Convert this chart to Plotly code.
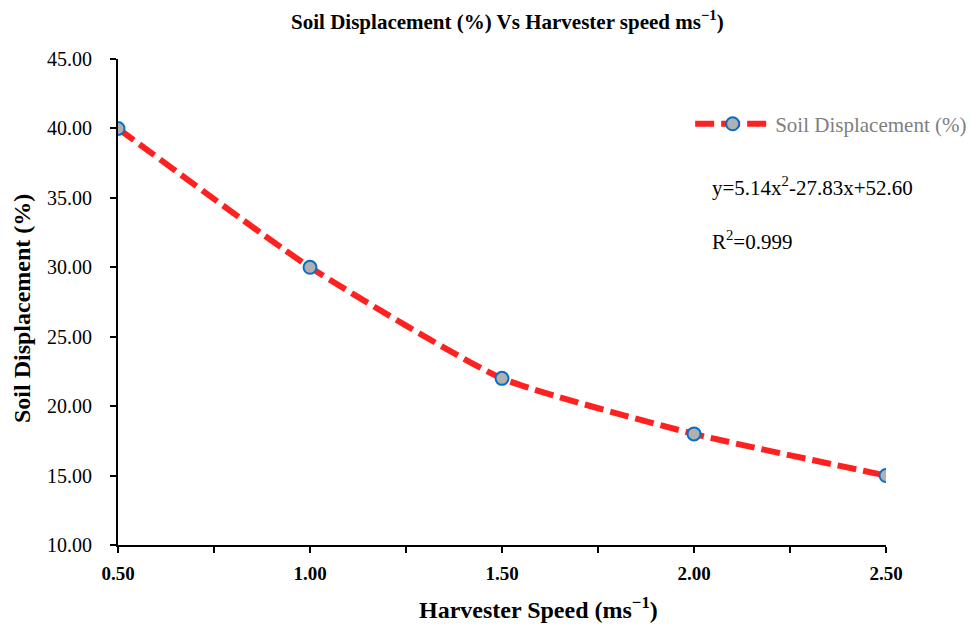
import plotly.graph_objects as go

speed = [0.5, 1.0, 1.5, 2.0, 2.5]
soil_disp = [40.0, 30.0, 22.0, 18.0, 15.0]
series_name = "Soil Displacement (%)"
title_text = "Soil Displacement (%) Vs Harvester speed ms<sup>−1</sup>)"
x_title = "Harvester Speed (ms<sup>−1</sup>)"
y_title = "Soil Displacement (%)"
eq_text = "y=5.14x<sup>2</sup>-27.83x+52.60"
r2_text = "R<sup>2</sup>=0.999"

FONT = "Liberation Serif, Times New Roman, serif"

fig = go.Figure()
fig.add_trace(go.Scatter(
    x=speed, y=soil_disp, name=series_name, mode="lines+markers",
    line=dict(color="#FF2020", width=6, dash="19px,7px", shape="spline", smoothing=0.5),
    marker=dict(size=13, color="#B0B0B0", line=dict(color="#0A6FC2", width=2)),
))

fig.update_layout(
    width=972, height=626,
    margin=dict(l=118, r=86, t=59, b=81, autoexpand=False),
    paper_bgcolor="white", plot_bgcolor="white",
    font=dict(family=FONT, color="black"),
    title=dict(text=title_text, x=0.522, xanchor="center", y=0.965, yanchor="middle",
               font=dict(size=21, family=FONT, weight="bold")),
    showlegend=True,
    legend=dict(x=0.745, y=0.866, xanchor="left", yanchor="middle",
                bgcolor="rgba(0,0,0,0)", font=dict(size=21, color="#7F7F7F", family=FONT),
                itemwidth=75),
    xaxis=dict(range=[0.5, 2.5], tickvals=speed, tickformat=".2f", automargin=False,
               showgrid=False, zeroline=False, showline=True, linecolor="black", linewidth=2,
               ticks="outside", ticklen=6, tickwidth=2, tickcolor="black", ticklabelstandoff=4,
               minor=dict(ticks="outside", dtick=0.25, ticklen=6, tickwidth=2, tickcolor="black", showgrid=False),
               tickfont=dict(size=19, family=FONT, weight="bold")),
    yaxis=dict(range=[10, 45], dtick=5, tickformat=".2f", automargin=False,
               showgrid=False, zeroline=False, showline=True, linecolor="black", linewidth=2,
               ticks="outside", ticklen=6, tickwidth=2, tickcolor="black", ticklabelstandoff=14,
               tickfont=dict(size=20, family=FONT)),
)

# axis titles (placed as in the reference)
fig.add_annotation(text=x_title, xref="paper", yref="paper", x=0.548, y=0, yshift=-63,
                   xanchor="center", yanchor="middle", showarrow=False,
                   font=dict(size=24, family=FONT, color="black", weight="bold"))
fig.add_annotation(text=y_title, xref="paper", yref="paper", x=0, xshift=-96, y=0.4856,
                   xanchor="center", yanchor="middle", showarrow=False, textangle=-90,
                   font=dict(size=24, family=FONT, color="black", weight="bold"))

fig.add_annotation(text=eq_text, xref="paper", yref="paper", x=0.771, y=0.737,
                   xanchor="left", yanchor="middle", showarrow=False,
                   font=dict(size=21, family=FONT, color="black"))
fig.add_annotation(text=r2_text, xref="paper", yref="paper", x=0.771, y=0.626,
                   xanchor="left", yanchor="middle", showarrow=False,
                   font=dict(size=21, family=FONT, color="black"))

fig.write_html("out.html", config={"displayModeBar": False},
               post_script="document.body.style.margin='0';document.body.style.overflow='hidden';")
